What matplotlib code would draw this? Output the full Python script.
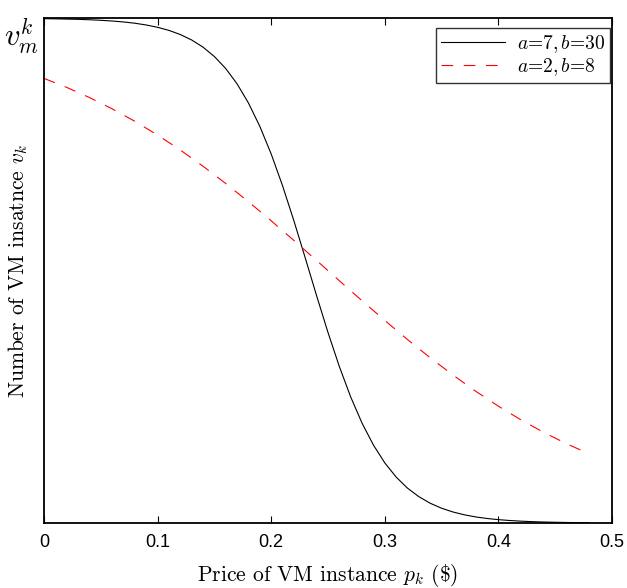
import matplotlib
matplotlib.use("Agg")
import matplotlib.pyplot as plt

plt.rcParams["mathtext.fontset"] = "cm"

# Значення
p_black = [0.00, 0.01, 0.02, 0.03, 0.04, 0.05, 0.06, 0.07, 0.08, 0.09,
           0.10, 0.11, 0.12, 0.13, 0.14, 0.15, 0.16, 0.17, 0.18, 0.19,
           0.20, 0.21, 0.22, 0.23, 0.24, 0.25, 0.26, 0.27, 0.28, 0.29,
           0.30, 0.31, 0.32, 0.33, 0.34, 0.35, 0.36, 0.37, 0.38, 0.39,
           0.40, 0.41, 0.42, 0.43, 0.44, 0.45, 0.46, 0.47, 0.48]
v_black = [0.9991, 0.9988, 0.9983, 0.9978, 0.9970, 0.9959, 0.9945, 0.9926, 0.9901, 0.9866,
           0.9820, 0.9759, 0.9677, 0.9569, 0.9427, 0.9241, 0.9003, 0.8699, 0.8320, 0.7858,
           0.7311, 0.6682, 0.5987, 0.5250, 0.4502, 0.3775, 0.3100, 0.2497, 0.1978, 0.1545,
           0.1192, 0.0911, 0.0691, 0.0522, 0.0392, 0.0293, 0.0219, 0.0163, 0.0121, 0.0090,
           0.0067, 0.0050, 0.0037, 0.0027, 0.0020, 0.0015, 0.0011, 0.0008, 0.0006]

p_red = [0.00, 0.02, 0.04, 0.06, 0.08, 0.10, 0.12, 0.14, 0.16, 0.18,
         0.20, 0.22, 0.24, 0.26, 0.28, 0.30, 0.32, 0.34, 0.36, 0.38,
         0.40, 0.42, 0.44, 0.46, 0.48]
v_red = [0.8808, 0.8630, 0.8429, 0.8205, 0.7958, 0.7685, 0.7389, 0.7068, 0.6726, 0.6365,
         0.5987, 0.5597, 0.5200, 0.4800, 0.4403, 0.4013, 0.3635, 0.3274, 0.2932, 0.2611,
         0.2315, 0.2042, 0.1795, 0.1571, 0.1370]

labels = [r"$a$=7$,b$=30", r"$a$=2$,b$=8"]
x_ticks = [0, 0.1, 0.2, 0.3, 0.4, 0.5]
x_tick_labels = ["0", "0.1", "0.2", "0.3", "0.4", "0.5"]

fig = plt.figure(figsize=(6.27, 5.88), dpi=100)
ax = fig.add_axes([0.0702, 0.1105, 0.9058, 0.8585])

ax.plot(p_black, v_black, color="black", linewidth=0.8, label=labels[0])
ax.plot(p_red, v_red, color="red", linewidth=0.8, dashes=(10.5, 9.5), label=labels[1])

ax.set_xlim(0, 0.5)
ax.set_ylim(0, 1.0)
ax.set_xticks(x_ticks)
ax.set_xticklabels(x_tick_labels, family="Liberation Sans", fontsize=13)
ax.tick_params(axis="x", direction="in", top=True, length=5, width=0.8, pad=8)

# Єдина мітка на осі y
ax.set_yticks([0.975])
ax.set_yticklabels([r"$v_m^k$"], fontsize=22)
ax.tick_params(axis="y", length=0, pad=4)

for s in ax.spines.values():
    s.set_linewidth(1.3)

ax.set_xlabel(r"Price of VM instance $p_k$ (\$)", family="cmr10", fontsize=15.5, labelpad=8)
ax.set_ylabel(r"Number of VM insatnce $v_k$", family="cmr10", fontsize=15.5)
ax.yaxis.set_label_coords(-0.024, 0.5)

leg = ax.legend(loc="upper right", prop={"family": "cmr10", "size": 14}, frameon=True,
                fancybox=False, edgecolor="black", handlelength=3.3, handletextpad=0.6,
                borderpad=0.25, borderaxespad=0, labelspacing=0.05,
                bbox_to_anchor=(0.9965, 0.98))
leg.get_frame().set_linewidth(1.0)

fig.savefig("out.png", dpi=100)
